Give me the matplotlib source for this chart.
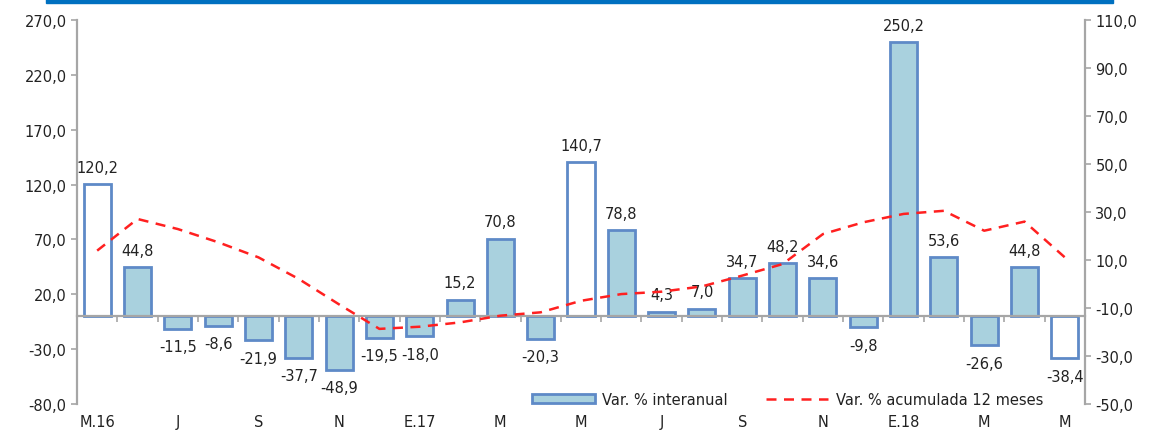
import matplotlib.pyplot as plt
import matplotlib.transforms as mtransforms
from matplotlib.patches import Rectangle
from matplotlib.lines import Line2D

plt.rcParams['font.family'] = ['DejaVu Sans']

# Meses de mayo 2016 a mayo 2018
months = ["M.16", "J", "J", "A", "S", "O", "N", "D", "E.17", "F", "M", "A", "M",
          "J", "J", "A", "S", "O", "N", "D", "E.18", "F", "M", "A", "M"]
interanual = [120.2, 44.8, -11.5, -8.6, -21.9, -37.7, -48.9, -19.5, -18.0, 15.2,
              70.8, -20.3, 140.7, 78.8, 4.3, 7.0, 34.7, 48.2, 34.6, -9.8,
              250.2, 53.6, -26.6, 44.8, -38.4]
acumulada = [13.9, 27.1, 22.9, 17.4, 11.1, 2.1, -8.5, -18.7, -17.8, -16.0,
             -13.2, -11.8, -7.0, -4.2, -3.2, -1.0, 3.5, 8.3, 20.8, 25.7,
             29.2, 30.5, 22.2, 26.0, 11.1]
# meses de mayo con barra sin relleno
hollow = [0, 12, 24]

fill_col = "#A9D1DE"
edge_col = "#5E8AC7"
grey = "#A6A6A6"
txt = "#222222"
fs = 10.5

fig = plt.figure(figsize=(11.51, 4.31), dpi=100)
ax = fig.add_axes([77 / 1151, 26 / 431, 1008 / 1151, 384 / 431])
ax2 = ax.twinx()

# banda azul superior
fig.patches.append(Rectangle((46 / 1151, 427 / 431), 1067 / 1151, 4 / 431,
                             transform=fig.transFigure, color="#0070C0", zorder=0))

x = list(range(len(interanual)))
facecolors = ["white" if i in hollow else fill_col for i in x]
ax.bar(x, interanual, width=0.67, color=facecolors, edgecolor=edge_col,
       linewidth=2, zorder=2)

for i, v in enumerate(interanual):
    off = 12 if v >= 0 else -13
    ax.annotate(f"{v:.1f}".replace(".", ","), (i, v), xytext=(0, off),
                textcoords="offset points", ha="center", va="center",
                fontsize=fs, color=txt)

ax.set_xlim(-0.5, len(x) - 0.5)
ax.set_ylim(-80, 270)
ax.set_yticks(range(-80, 271, 50))
ax.set_yticklabels([f"{t:.1f}".replace(".", ",") for t in range(-80, 271, 50)])

ax2.set_ylim(-50, 110)
ax2.set_yticks(range(-50, 111, 20))
ax2.set_yticklabels([f"{t:.1f}".replace(".", ",") for t in range(-50, 111, 20)])

ax2.plot(x, acumulada, color="#FF2020", linestyle=(0, (4, 3)),
         linewidth=1.8, zorder=3)

for a in (ax, ax2):
    a.spines["top"].set_visible(False)
    a.tick_params(axis="y", colors=grey, labelcolor=txt, labelsize=fs,
                  length=4, width=1.2)
ax.spines["left"].set_color(grey)
ax.spines["left"].set_linewidth(1.6)
ax2.spines["right"].set_color(grey)
ax2.spines["right"].set_linewidth(1.6)
ax2.spines["left"].set_visible(False)
ax2.spines["bottom"].set_visible(False)
ax.spines["right"].set_visible(False)
ax.spines["bottom"].set_position(("data", 0))
ax.spines["bottom"].set_color(grey)
ax.spines["bottom"].set_linewidth(1.6)

# marcas entre categorías sobre la línea de cero
ax.set_xticks([i + 0.5 for i in x[:-1]])
ax.set_xticklabels([])
ax.tick_params(axis="x", colors=grey, length=4, width=1.2)

trans = mtransforms.blended_transform_factory(ax.transData, ax.transAxes)
for i in range(0, len(months), 2):
    ax.text(i, -0.045, months[i], transform=trans, ha="center", va="center",
            fontsize=fs, color=txt)

ax2.patch.set_visible(False)

handles = [Rectangle((0, 0), 1, 1, facecolor=fill_col, edgecolor=edge_col, linewidth=2),
           Line2D([], [], color="#FF2020", linestyle=(0, (4, 3)), linewidth=1.8)]
ax.legend(handles, ["Var. % interanual", "Var. % acumulada 12 meses"], ncol=2,
          loc="center", bbox_to_anchor=(0.705, 0.013), frameon=False,
          fontsize=fs, handlelength=4.3, handleheight=0.55, columnspacing=2.6,
          handletextpad=0.5, labelcolor=txt)

fig.savefig("out.png", dpi=100)
